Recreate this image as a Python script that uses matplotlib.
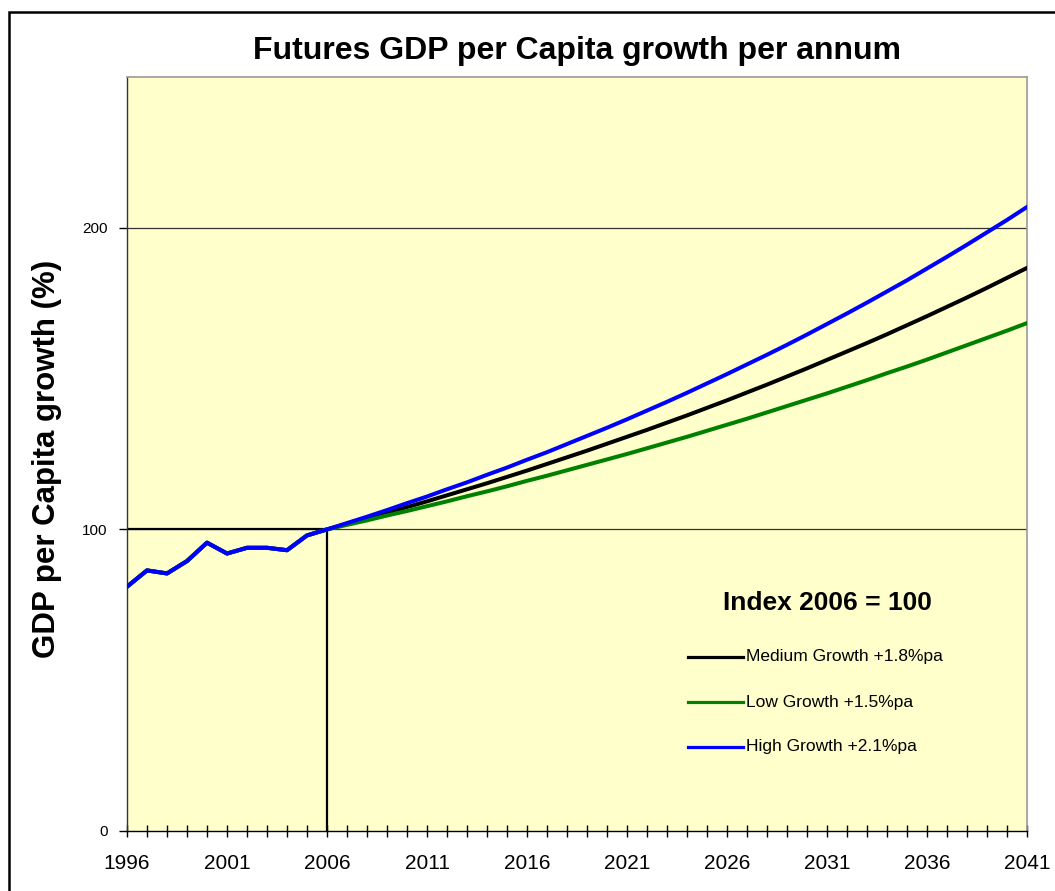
import matplotlib
matplotlib.use("Agg")
import matplotlib.pyplot as plt
from matplotlib.lines import Line2D
from matplotlib.patches import Rectangle

plt.rcParams['font.family'] = ['Liberation Sans', 'DejaVu Sans']

# ---- data ----
hist_years = list(range(1996, 2007))
hist_values = [81.0, 86.4, 85.4, 89.5, 95.6, 92.0, 93.9, 93.9, 93.1, 98.0, 100.0]

proj_years = list(range(2006, 2042))
medium = [100.0, 101.8, 103.6, 105.5, 107.4, 109.3, 111.3, 113.3, 115.3, 117.4,
          119.5, 121.7, 123.9, 126.1, 128.4, 130.7, 133.0, 135.4, 137.8, 140.3,
          142.8, 145.4, 148.0, 150.7, 153.4, 156.2, 159.0, 161.8, 164.7, 167.7,
          170.7, 173.8, 176.9, 180.1, 183.4, 186.7]
low = [100.0, 101.5, 103.0, 104.6, 106.1, 107.7, 109.3, 111.0, 112.6, 114.3,
       116.1, 117.8, 119.6, 121.4, 123.2, 125.0, 126.9, 128.8, 130.7, 132.7,
       134.7, 136.7, 138.8, 140.9, 143.0, 145.1, 147.3, 149.5, 151.8, 154.0,
       156.3, 158.7, 161.1, 163.5, 165.9, 168.4]
high = [100.0, 102.1, 104.2, 106.4, 108.7, 110.9, 113.3, 115.6, 118.1, 120.5,
        123.1, 125.6, 128.3, 131.0, 133.7, 136.5, 139.4, 142.3, 145.3, 148.4,
        151.5, 154.7, 157.9, 161.2, 164.6, 168.1, 171.6, 175.2, 178.9, 182.6,
        186.5, 190.4, 194.4, 198.5, 202.6, 206.9]

series_labels = ["Medium Growth +1.8%pa", "Low Growth +1.5%pa", "High Growth +2.1%pa"]
series_colors = ["#000000", "#008000", "#0000FF"]
x_tick_labels = [str(y) for y in range(1996, 2042, 5)]
y_ticks = [0, 100, 200]
base_year = 2006
base_value = 100

W, H = 1055, 891
fig = plt.figure(figsize=(W / 100, H / 100), dpi=100)
fig.patch.set_facecolor("white")

L, R, B, T = 127, 1027, 831, 77
ax = fig.add_axes([L / W, (H - B) / H, (R - L) / W, (B - T) / H])
ax.set_facecolor("#FFFFCC")
ax.set_xlim(1996, 2041)
ax.set_ylim(0, 250)

# grid lines
for yv in [100, 200]:
    ax.axhline(yv, color="#333333", lw=0.9, zorder=1)

# base reference lines
ax.plot([1996, base_year], [base_value, base_value], color="black", lw=1.6, zorder=2)
ax.plot([base_year, base_year], [0, base_value], color="black", lw=1.6, zorder=2)

# series
for vals, col in zip([medium, low, high], series_colors):
    ax.plot(hist_years + proj_years[1:], hist_values + vals[1:], color=col, lw=2.9,
            solid_joinstyle="round", zorder=3)

# axes styling
for side in ["top", "right"]:
    ax.spines[side].set_color("#999999")
    ax.spines[side].set_linewidth(1.2)
ax.spines["left"].set_color("#333333")
ax.spines["left"].set_linewidth(1.0)
ax.spines["bottom"].set_color("black")
ax.spines["bottom"].set_linewidth(1.0)

ax.set_xticks(range(1996, 2042))
ax.set_xticklabels([str(y) if (y - 1996) % 5 == 0 else "" for y in range(1996, 2042)],
                   fontsize=15)
ax.tick_params(axis="x", direction="inout", length=9, width=1.0, pad=12, color="black")
ax.set_yticks(y_ticks)
ax.set_yticklabels([str(v) for v in y_ticks], fontsize=11)
ax.tick_params(axis="y", direction="out", length=6, width=1.0, pad=8, color="black")

# title and y label
fig.text(577 / W, 1 - 51 / H, "Futures GDP per Capita growth per annum",
         ha="center", va="center", fontsize=23, fontweight="bold")
fig.text(47 / W, 1 - 459 / H, "GDP per Capita growth (%)", rotation=90,
         ha="center", va="center", fontsize=22.5, fontweight="bold")

# legend (manual)
fig.text(827 / W, 1 - 603 / H, "Index 2006 = 100", ha="center", va="center",
         fontsize=19, fontweight="bold")
rows_y = [657, 702, 747]
for lab, col, yy in zip(series_labels, series_colors, rows_y):
    fig.add_artist(Line2D([688 / W, 743 / W], [1 - yy / H, 1 - yy / H],
                          color=col, lw=2.3, transform=fig.transFigure))
    fig.text(746 / W, 1 - yy / H, lab, ha="left", va="center", fontsize=12.5)

# outer frame
fig.add_artist(Rectangle((9 / W, -0.1), 1.2, 1.1 - 12 / H, transform=fig.transFigure,
                         fill=False, edgecolor="black", lw=1.8))

fig.savefig("out.png", dpi=100)
